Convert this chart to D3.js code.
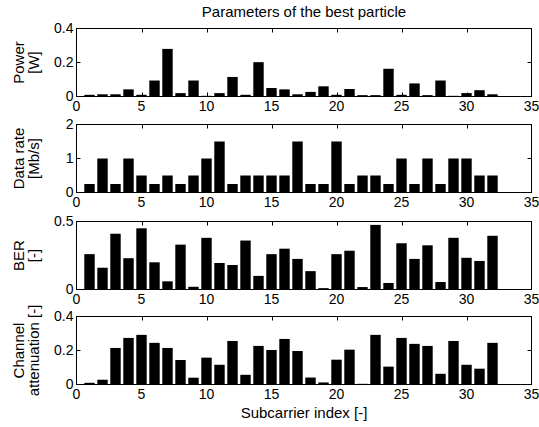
<!DOCTYPE html>
<html>
<head>
<meta charset="utf-8">
<script src="https://cdn.jsdelivr.net/npm/d3@7"></script>
<style>
  body { margin: 0; background: #fff; }
  text { font-family: "Liberation Sans", Arial, sans-serif; fill: #000; }
</style>
</head>
<body>
<div id="chart"></div>
<script>
// ---- data ----
const subcarriers = d3.range(1, 33);

const power = [0.01, 0.013, 0.013, 0.042, 0.01, 0.094, 0.28, 0.02, 0.094, 0.004,
  0.02, 0.115, 0.01, 0.202, 0.05, 0.042, 0.013, 0.027, 0.06, 0.01,
  0.044, 0.008, 0.008, 0.163, 0.01, 0.077, 0.008, 0.094, 0.004, 0.02,
  0.037, 0.013];

const dataRate = [0.25, 1, 0.25, 1, 0.5, 0.25, 0.5, 0.25, 0.5, 1,
  1.5, 0.25, 0.5, 0.5, 0.5, 0.5, 1.5, 0.25, 0.25, 1.5,
  0.25, 0.5, 0.5, 0.25, 1, 0.25, 1, 0.25, 1, 1,
  0.5, 0.5];

const ber = [0.26, 0.16, 0.41, 0.23, 0.45, 0.2, 0.06, 0.33, 0.02, 0.38,
  0.195, 0.18, 0.36, 0.1, 0.26, 0.3, 0.225, 0.135, 0.01, 0.26,
  0.285, 0.018, 0.475, 0.048, 0.34, 0.225, 0.325, 0.055, 0.38, 0.233,
  0.21, 0.395];

const attenuation = [0.01, 0.028, 0.215, 0.274, 0.292, 0.245, 0.215, 0.144, 0.04, 0.158,
  0.116, 0.256, 0.057, 0.227, 0.203, 0.268, 0.197, 0.041, 0.012, 0.146,
  0.205, 0.004, 0.292, 0.105, 0.274, 0.239, 0.227, 0.063, 0.256, 0.116,
  0.093, 0.245];

const xTicks = [0, 5, 10, 15, 20, 25, 30, 35];

const panels = [
  { values: power, yMax: 0.4, yTicks: [0, 0.2, 0.4], label: ["Power", "[W]"] },
  { values: dataRate, yMax: 2, yTicks: [0, 1, 2], label: ["Data rate", "[Mb/s]"] },
  { values: ber, yMax: 0.5, yTicks: [0, 0.5], label: ["BER", "[-]"] },
  { values: attenuation, yMax: 0.4, yTicks: [0, 0.2, 0.4], label: ["Channel", "attenuation [-]"] }
];

const title = "Parameters of the best particle";
const xLabel = "Subcarrier index [-]";

// ---- layout ----
const width = 539, height = 427;
const left = 76.5, right = 531.5;
const tops = [28.5, 124.5, 221.5, 316.5];
const panelH = 68;
const tickLen = 4;

const svg = d3.select("#chart").append("svg")
  .attr("width", width)
  .attr("height", height);

const x = d3.scaleLinear().domain([0, 35]).range([left, right]);
const barW = (x(1) - x(0)) * 0.8;

const fmt = v => v === 0 ? "0" : String(v);

panels.forEach((p, i) => {
  const top = tops[i], bottom = top + panelH;
  const y = d3.scaleLinear().domain([0, p.yMax]).range([bottom, top]);
  const g = svg.append("g");

  // bars
  g.selectAll("rect")
    .data(p.values)
    .join("rect")
    .attr("x", (d, k) => x(subcarriers[k]) - barW / 2)
    .attr("y", d => y(d))
    .attr("width", barW)
    .attr("height", d => y(0) - y(d))
    .attr("fill", "#000");

  // box
  g.append("rect")
    .attr("x", left).attr("y", top)
    .attr("width", right - left).attr("height", panelH)
    .attr("fill", "none").attr("stroke", "#000").attr("stroke-width", 1);

  // x ticks (bottom + top, inward)
  const xt = xTicks.filter(t => t > 0 && t < 35);
  g.selectAll(".xb").data(xt).join("line").attr("class", "xb")
    .attr("x1", d => Math.round(x(d)) + 0.5).attr("x2", d => Math.round(x(d)) + 0.5)
    .attr("y1", bottom).attr("y2", bottom - tickLen)
    .attr("stroke", "#000");
  g.selectAll(".xt").data(xt).join("line").attr("class", "xt")
    .attr("x1", d => Math.round(x(d)) + 0.5).attr("x2", d => Math.round(x(d)) + 0.5)
    .attr("y1", top).attr("y2", top + tickLen)
    .attr("stroke", "#000");

  g.selectAll(".xl").data(xTicks).join("text").attr("class", "xl")
    .attr("x", d => x(d)).attr("y", bottom + 14)
    .attr("text-anchor", "middle")
    .style("font-size", "14px")
    .text(d => d);

  // y ticks (left + right, inward)
  const yt = p.yTicks.filter(t => t > 0 && t < p.yMax);
  g.selectAll(".yl1").data(yt).join("line").attr("class", "yl1")
    .attr("x1", left).attr("x2", left + tickLen)
    .attr("y1", d => y(d)).attr("y2", d => y(d))
    .attr("stroke", "#000");
  g.selectAll(".yr1").data(yt).join("line").attr("class", "yr1")
    .attr("x1", right).attr("x2", right - tickLen)
    .attr("y1", d => y(d)).attr("y2", d => y(d))
    .attr("stroke", "#000");

  g.selectAll(".ylab").data(p.yTicks).join("text").attr("class", "ylab")
    .attr("x", left - 3).attr("y", d => y(d))
    .attr("dy", "0.35em")
    .attr("text-anchor", "end")
    .style("font-size", "14px")
    .text(fmt);

  // y label (two lines, rotated)
  const cy = (top + bottom) / 2;
  p.label.forEach((line, j) => {
    g.append("text")
      .attr("transform", `translate(${19 + j * 15},${cy}) rotate(-90)`)
      .attr("text-anchor", "middle")
      .attr("dy", "0.35em")
      .style("font-size", "15px")
      .text(line);
  });
});

svg.append("text")
  .attr("x", (left + right) / 2).attr("y", 17)
  .attr("text-anchor", "middle")
  .style("font-size", "15px")
  .text(title);

svg.append("text")
  .attr("x", (left + right) / 2).attr("y", 418)
  .attr("text-anchor", "middle")
  .style("font-size", "15px")
  .text(xLabel);
</script>
</body>
</html>
